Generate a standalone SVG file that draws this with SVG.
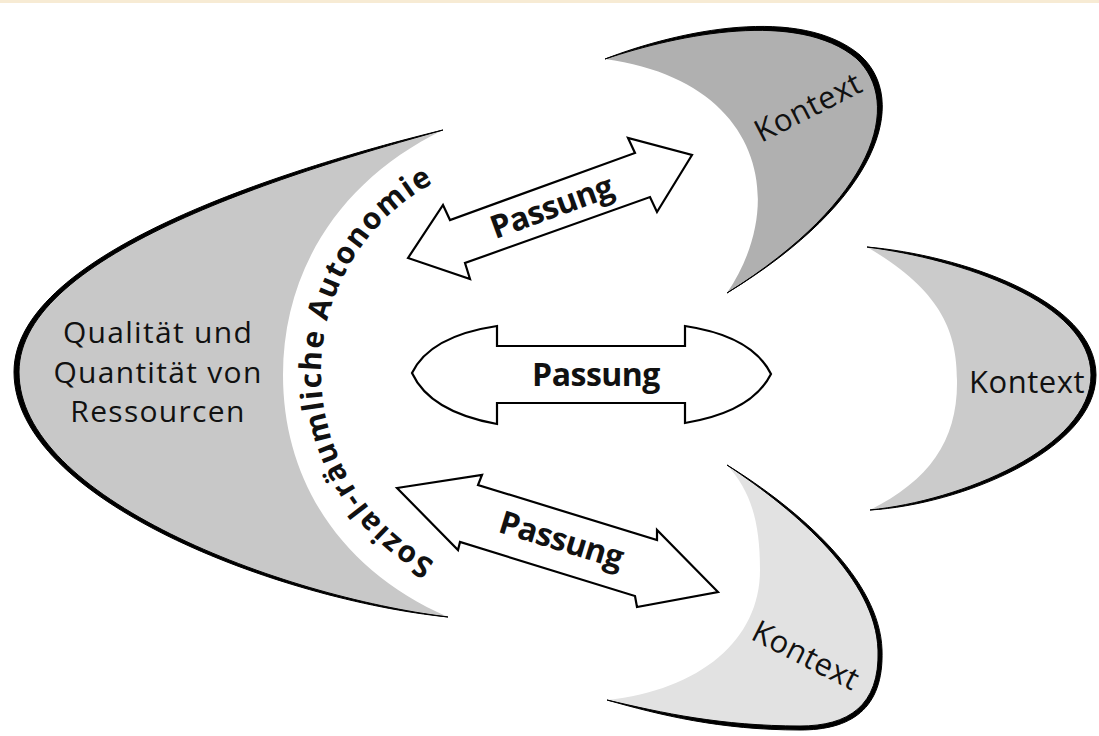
<svg xmlns="http://www.w3.org/2000/svg" width="1099" height="736" viewBox="0 0 1099 736">
<style>
.txt{font-family:"Open Sans","Noto Sans","Liberation Sans",sans-serif;fill:#111;}
.lbl{font-size:30px;letter-spacing:1.3px;}
.ktx{font-size:31px;letter-spacing:0.5px;}
.pas{font-size:32px;font-weight:700;letter-spacing:-0.5px;}
.arc{font-size:30px;font-weight:700;letter-spacing:1.6px;}
.rim{fill:#000;stroke:#000;stroke-width:1;}
.arrow{fill:#fff;stroke:#000;stroke-width:2.2;stroke-linejoin:miter;}
</style>
<defs>
<path id="arcPath" d="M462.5,574 A215,215 0 0 1 462.5,170"/>
</defs>
<rect x="0" y="0" width="1099" height="3" fill="#f7ebd4"/>

<g id="ressourcen">
<path d="M443,130 C300,165 14,250 14,372 C14,500 280,600 448,617 C340,570 283,480 283,375 C283,270 340,180 443,130 Z" fill="#c8c8c8"/>
<path class="rim" d="M443,130 C300,165 14,250 14,372 C14,500 280,600 448,617 C280,596 19,498 19,372 C19,252 300,170 443,130 Z"/>
<text class="txt lbl" text-anchor="middle"><tspan x="158" y="343">Qualität und</tspan><tspan x="158" y="383">Quantität von</tspan><tspan x="158" y="422">Ressourcen</tspan></text>
<text class="txt arc"><textPath href="#arcPath" startOffset="50%" text-anchor="middle">Sozial-räumliche Autonomie</textPath></text>
</g>

<g id="kontext-oben">
<path d="M605,59 C680,30 800,5 860,55 C910,100 880,200 727,293 C790,200 760,80 605,59 Z" fill="#b0b0b0"/>
<path class="rim" d="M605,59 C680,30 800,5 860,55 C910,100 880,200 727,293 C876,200 904,102 856,58 C798,10 680,34 605,59 Z"/>
<text class="txt ktx" text-anchor="middle" transform="translate(808,107) rotate(-27)" y="11">Kontext</text>
</g>

<g id="kontext-rechts">
<path d="M867,247 C960,255 1096,300 1096,375 C1096,450 960,505 870,510 C930,480 958,440 957,380 C957,330 940,290 867,247 Z" fill="#cbcbcb"/>
<path class="rim" d="M867,247 C960,255 1096,300 1096,375 C1096,450 960,505 870,510 C960,501 1091,448 1091,375 C1091,302 960,259 867,247 Z"/>
<text class="txt ktx" text-anchor="middle" x="1027" y="393">Kontext</text>
</g>

<g id="kontext-unten">
<path d="M727,465 C800,510 880,580 882,650 C884,710 850,730 800,730 C720,730 660,715 607,700 C700,690 760,640 760,570 C760,520 750,490 727,465 Z" fill="#e2e2e2"/>
<path class="rim" d="M727,465 C800,510 880,580 882,650 C884,710 850,730 800,730 C720,730 660,715 607,700 C662,713 722,726 800,726 C848,726 880,706 878,650 C876,580 798,512 727,465 Z"/>
<text class="txt ktx" text-anchor="middle" transform="translate(806,655) rotate(27)" y="11">Kontext</text>
</g>

<g id="connectors">
<g id="passung-oben">
<path class="arrow" d="M408,258 L443,205 L450,220 L635,153 L628,138 L692,155 L657,212 L650,197 L465,263 L470,279 Z"/>
<text class="txt pas" text-anchor="middle" transform="translate(552,208) rotate(-20)" y="10">Passung</text>
</g>
<g id="passung-mitte">
<path class="arrow" d="M412,373 Q430,336 497,326 L497,346 L685,346 L685,326 Q752,336 771,374 Q752,412 685,423 L685,403 L497,403 L497,424 Q430,412 412,373 Z"/>
<text class="txt pas" text-anchor="middle" x="596" y="386">Passung</text>
</g>
<g id="passung-unten">
<path class="arrow" d="M397,488 L482,475 L478,485 L657,540 L657,530 L718,592 L637,607 L635,596 L460,542 L458,550 Z"/>
<text class="txt pas" text-anchor="middle" transform="translate(561,541) rotate(17)" y="10">Passung</text>
</g>
</g>
</svg>
